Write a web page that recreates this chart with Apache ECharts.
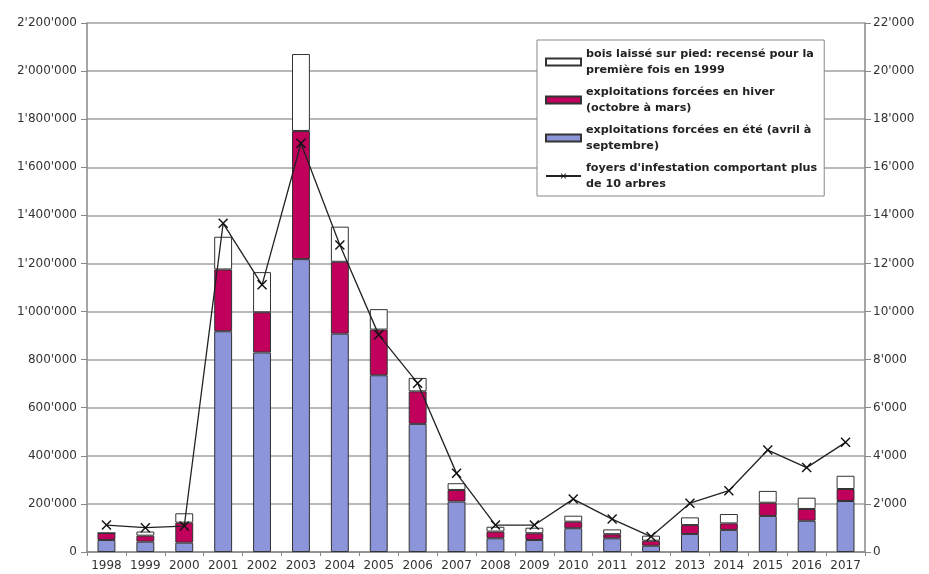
<!DOCTYPE html>
<html>
<head>
<meta charset="utf-8">
<script src="https://cdn.jsdelivr.net/npm/echarts@6/dist/echarts.min.js"></script>
<style>html,body{margin:0;padding:0;background:#fff;}#c{width:929px;height:574px;}</style>
</head>
<body>
<div id="c"></div>
<script>
const years = ['1998','1999','2000','2001','2002','2003','2004','2005','2006','2007','2008','2009','2010','2011','2012','2013','2014','2015','2016','2017'];
const summer = [50000, 43000, 39000, 918000, 830000, 1218000, 908000, 735000, 533000, 210000, 57000, 50000, 99000, 57000, 26000, 75000, 92000, 150000, 130000, 212000];
const winter = [29000, 25000, 83000, 257000, 167000, 533000, 299000, 190000, 135000, 48000, 28000, 28000, 27000, 17000, 21000, 37000, 27000, 55000, 49000, 50000];
const standing = [0, 17000, 39000, 136000, 167000, 320000, 146000, 85000, 56000, 28000, 20000, 23000, 25000, 20000, 21000, 32000, 39000, 49000, 47000, 55000];
const foyers = [1120, 1010, 1080, 13670, 11110, 17000, 12770, 9030, 7020, 3270, 1120, 1120, 2200, 1370, 640, 2030, 2550, 4240, 3510, 4560];

const names = [
  'bois laissé sur pied: recensé pour la\npremière fois en 1999',
  'exploitations forcées en hiver\n(octobre à mars)',
  'exploitations forcées en été (avril à\nseptembre)',
  "foyers d'infestation comportant plus\nde 10 arbres"
];

function fmt(v){ return String(v).replace(/\B(?=(\d{3})+(?!\d))/g, "'"); }
const font = 'DejaVu Sans, Verdana, sans-serif';
const xSym = 'path://M0,1 L1,0 L5,4 L9,0 L10,1 L6,5 L10,9 L9,10 L5,6 L1,10 L0,9 L4,5 Z';

const chart = echarts.init(document.getElementById('c'));
chart.setOption({
  animation: false,
  textStyle: { fontFamily: font },
  grid: { left: 87, right: 64, top: 23, bottom: 22 },
  legend: {
    orient: 'vertical',
    left: 537, top: 40,
    data: [
      { name: names[0], icon: 'rect' },
      { name: names[1], icon: 'rect' },
      { name: names[2], icon: 'rect' },
      { name: names[3] }
    ],
    backgroundColor: '#fff',
    borderColor: '#888', borderWidth: 1,
    padding: [6, 7, 4, 8],
    itemWidth: 35, itemHeight: 7, itemGap: 6,
    textStyle: { fontSize: 11.2, fontWeight: 'bold', color: '#222', lineHeight: 16, fontFamily: font }
  },
  xAxis: {
    type: 'category', data: years,
    axisLine: { lineStyle: { color: '#888', width: 1.5 } },
    axisTick: { show: true, length: 4, lineStyle: { color: '#888' } },
    axisLabel: { color: '#333', fontSize: 12, margin: 8, interval: 0 }
  },
  yAxis: [
    {
      type: 'value', min: 0, max: 2200000, interval: 200000,
      axisLine: { show: true, lineStyle: { color: '#888', width: 1.5 } },
      axisTick: { show: true, length: 6, lineStyle: { color: '#888' } },
      axisLabel: { color: '#333', fontSize: 12, formatter: fmt, margin: 10 },
      splitLine: { lineStyle: { color: '#a0a0a0', width: 1.5 } }
    },
    {
      type: 'value', min: 0, max: 22000, interval: 2000, position: 'right',
      axisLine: { show: true, lineStyle: { color: '#888', width: 1.5 } },
      axisTick: { show: true, length: 6, lineStyle: { color: '#888' } },
      axisLabel: { color: '#333', fontSize: 12, formatter: fmt, margin: 8 },
      splitLine: { show: false }
    }
  ],
  series: [
    { name: names[2], type: 'bar', stack: 's', data: summer, barWidth: '46%',
      itemStyle: { color: '#8c94da', borderColor: '#333', borderWidth: 1 } },
    { name: names[1], type: 'bar', stack: 's', data: winter,
      itemStyle: { color: '#c1005c', borderColor: '#333', borderWidth: 1 } },
    { name: names[0], type: 'bar', stack: 's', data: standing,
      itemStyle: { color: '#ffffff', borderColor: '#333', borderWidth: 1 } },
    { name: names[3], type: 'line', yAxisIndex: 1, data: foyers, z: 5,
      symbol: xSym, symbolSize: 10,
      lineStyle: { color: '#222', width: 1.3 },
      itemStyle: { color: '#111' } }
  ]
});
</script>
</body>
</html>
